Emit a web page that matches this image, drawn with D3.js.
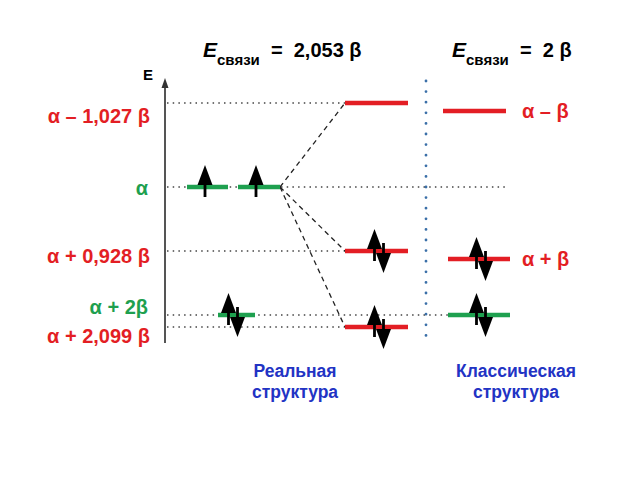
<!DOCTYPE html>
<html><head><meta charset="utf-8">
<script src="https://cdn.jsdelivr.net/npm/d3@7"></script>
<style>body{margin:0;background:#fff}text{font-family:Arial,"Liberation Sans",sans-serif;font-weight:bold}</style>
</head><body><svg id="c" width="640" height="480"></svg>
<script>
// Energies in units of beta relative to alpha (positive = lower, bonding)
const realLevels = [
  {e:-1.027, label:"α – 1,027 β", color:"red", electrons:0},
  {e:0.928, label:"α + 0,928 β", color:"red", electrons:2},
  {e:2.099, label:"α + 2,099 β", color:"red", electrons:2}
];
const refLevels = [
  {e:0, label:"α", color:"green"},
  {e:2, label:"α + 2β", color:"green"}
];
const classicLevels = [
  {e:-1, label:"α – β", color:"red", electrons:0},
  {e:1, label:"α + β", color:"red", electrons:2},
  {e:2, label:"", color:"green", electrons:2}
];
const titles = [{value:"2,053 β", col:"real"},{value:"2 β", col:"classic"}];
const structureLabels = [["Реальная","структура"],["Классическая","структура"]];

const COLORS = {red:"#e31e24", green:"#1ea04f"};
const svg = d3.select("#c");
// diagram not to scale: piecewise linear mapping
const y = d3.scaleLinear().domain([-1.027,-1,0,0.928,1,2,2.099]).range([103,111,187,251,259,315,327]);

const axisX = 165;
// axis
svg.append("line").attr("x1",axisX).attr("x2",axisX).attr("y1",86).attr("y2",343).attr("stroke","#555").attr("stroke-width",2);
svg.append("path").attr("d",`M${axisX-3.5},88 L${axisX},78 L${axisX+3.5},88 Z`).attr("fill","#333");
svg.append("text").attr("x",148).attr("y",80).attr("text-anchor","middle").attr("font-size",15).text("E");

// dotted guide lines
const guides = [
  {e:-1.027, x2:345},{e:0,x2:505},{e:0.928,x2:345},{e:2,x2:505},{e:2.099,x2:345}
];
svg.selectAll(".g").data(guides).enter().append("line")
  .attr("x1",axisX+2).attr("x2",d=>d.x2).attr("y1",d=>y(d.e)).attr("y2",d=>y(d.e))
  .attr("stroke","#444").attr("stroke-width",1.3).attr("stroke-dasharray","1.5,4.2");

// vertical blue dotted separator
svg.append("line").attr("x1",426).attr("x2",426).attr("y1",81).attr("y2",345)
  .attr("stroke","#3a6fa8").attr("stroke-width",2.8).attr("stroke-linecap","round").attr("stroke-dasharray","0,10.6");

// left labels
const leftLabels = [
  {e:-1.027, label:"α – 1,027 β", color:"red", dy:20, fs:20, x:150},
  {e:0, label:"α", color:"green", dy:8, fs:20, x:148},
  {e:0.928, label:"α + 0,928 β", color:"red", dy:12, fs:20, x:150},
  {e:2, label:"α + 2β", color:"green", dy:-1, fs:20, x:148},
  {e:2.099, label:"α + 2,099 β", color:"red", dy:16, fs:20, x:150}
];
svg.selectAll(".ll").data(leftLabels).enter().append("text")
  .attr("x",d=>d.x).attr("y",d=>y(d.e)+d.dy).attr("text-anchor","end").attr("font-size",d=>d.fs)
  .attr("fill",d=>COLORS[d.color]).text(d=>d.label);

// dashed correlation lines
const fromPt = [280, y(0)];
svg.selectAll(".dl").data(realLevels).enter().append("line")
  .attr("x1",fromPt[0]).attr("y1",fromPt[1]).attr("x2",345).attr("y2",d=>y(d.e))
  .attr("stroke","#222").attr("stroke-width",1.3).attr("stroke-dasharray","5,4");

function bar(x1,x2,e,color){
  svg.append("line").attr("x1",x1).attr("x2",x2).attr("y1",y(e)).attr("y2",y(e))
    .attr("stroke",COLORS[color]).attr("stroke-width",4.5);
}
function up(cx,cy){
  svg.append("path").attr("d",`M${cx},${cy-22} L${cx+7.5},${cy-2} L${cx+1.4},${cy-2} L${cx+1.4},${cy+10} L${cx-1.4},${cy+10} L${cx-1.4},${cy-2} L${cx-7.5},${cy-2} Z`).attr("fill","#000");
}
function down(cx,cy){
  svg.append("path").attr("d",`M${cx},${cy+22} L${cx+7.5},${cy+2} L${cx+1.4},${cy+2} L${cx+1.4},${cy-8} L${cx-1.4},${cy-8} L${cx-1.4},${cy+2} L${cx-7.5},${cy+2} Z`).attr("fill","#000");
}
function pair(cx,cy){
  up(cx-4.5,cy);
  down(cx+4.5,cy);
}

// reference (alpha) levels
bar(187,228,0,"green"); bar(238,280,0,"green");
up(205,y(0)); up(256,y(0));
bar(218,255,2,"green"); pair(233,y(2));

// real structure
realLevels.forEach(d=>{ bar(345,408,d.e,d.color); if(d.electrons===2) pair(379,y(d.e)); });

// classic structure
classicLevels.forEach((d,i)=>{
  const x1 = i===0?443:448, x2 = i===0?506:510;
  bar(x1,x2,d.e,d.color);
  if(d.electrons===2) pair(481,y(d.e));
});
svg.selectAll(".cl").data(classicLevels.filter(d=>d.label)).enter().append("text")
  .attr("x",522).attr("y",d=>y(d.e)+7).attr("font-size",20).attr("fill",d=>COLORS[d.color]).text(d=>d.label);

// titles
const titleX = {real:203, classic:452};
titles.forEach(t=>{
  const tx = svg.append("text").attr("x",titleX[t.col]).attr("y",57).attr("font-size",20);
  tx.append("tspan").attr("font-style","italic").attr("font-size",21).text("E");
  tx.append("tspan").attr("font-size",15).attr("dy",8).text("связи");
  tx.append("tspan").attr("dy",-8).attr("font-size",20).text("  =  "+t.value);
});
svg.selectAll("text").attr("xml:space","preserve");

// structure labels
const slX = [295,516];
structureLabels.forEach((lines,i)=>{
  lines.forEach((l,j)=>{
    svg.append("text").attr("x",slX[i]).attr("y",377+j*21).attr("text-anchor","middle")
      .attr("font-size",17.5).attr("fill","#2233c4").text(l);
  });
});
</script></body></html>
